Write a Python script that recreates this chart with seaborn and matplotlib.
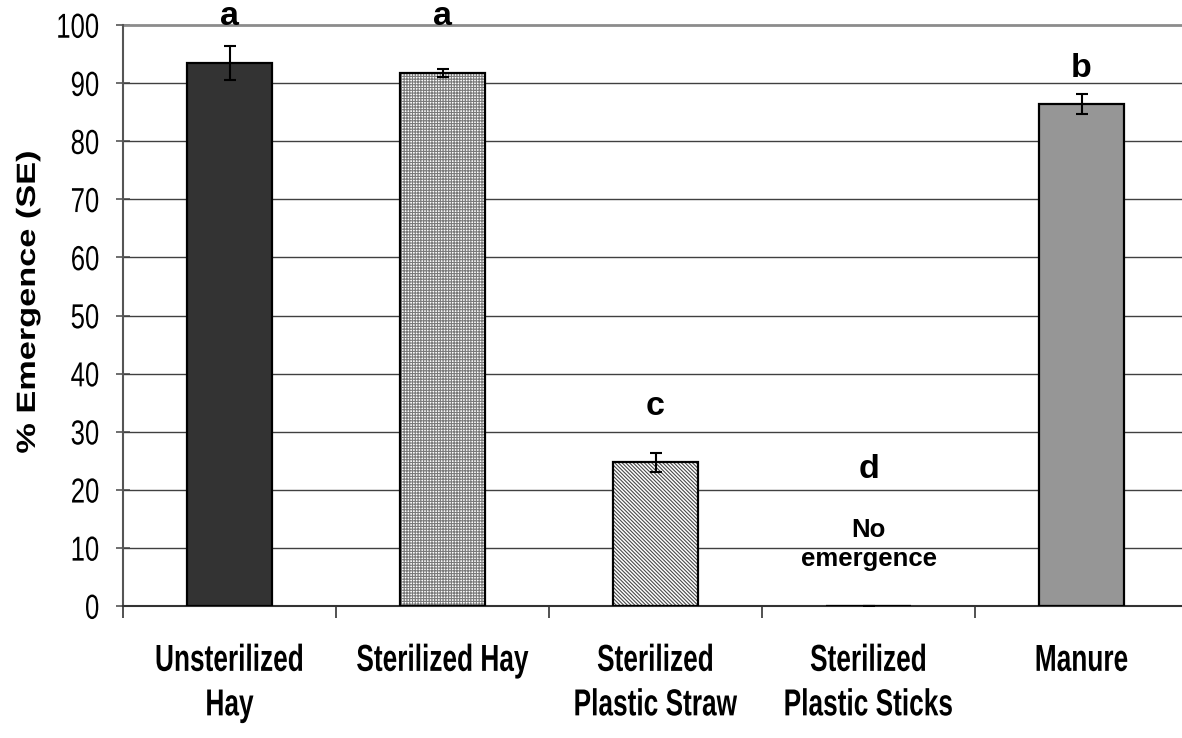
import matplotlib
matplotlib.use("Agg")
import matplotlib.pyplot as plt
from matplotlib.patches import Rectangle
from matplotlib.transforms import Affine2D
from matplotlib import patheffects
import seaborn as sns
import numpy as np

# Emergence by substrate
categories = ["Unsterilized\nHay", "Sterilized Hay", "Sterilized\nPlastic Straw",
              "Sterilized\nPlastic Sticks", "Manure"]
emergence = [93.4, 91.7, 24.7, 0.0, 86.4]
se = [2.9, 0.7, 1.7, 0.0, 1.7]
letters = ["a", "a", "c", "d", "b"]
letter_y = [100.0, 100.0, 32.9, 22.0, 91.0]
yticks = list(range(0, 101, 10))

fills = ["#333333", "#ffffff", "#ffffff", "#ffffff", "#969696"]
hatches = [None, "++++++", "\\\\\\\\\\\\\\\\\\", None, None]
hatch_colors = ["#707070", "#7a7a7a", "#4a4a4a", "#707070", "#707070"]


class Stretch(patheffects.AbstractPathEffect):
    """Scale glyph outlines in their own text frame about a fixed point.

    The glyph frame uses 100 units per em; (ax, ay) is the fixed point,
    with ax taken from the line's extents ("left", "center", "right").
    """

    def __init__(self, sx=1.0, sy=1.0, ax="center", ay=0.0):
        super().__init__()
        self.sx, self.sy, self.ax, self.ay = sx, sy, ax, ay

    def draw_path(self, renderer, gc, tpath, affine, rgbFace=None):
        ext = tpath.get_extents()
        cx = {"left": ext.x0, "right": ext.x1}.get(self.ax, 0.5 * (ext.x0 + ext.x1))
        t = (Affine2D().translate(-cx, -self.ay).scale(self.sx, self.sy)
             .translate(cx, self.ay))
        renderer.draw_path(gc, tpath, t + affine, rgbFace)


sns.set_theme(style="white")
plt.rcParams["font.family"] = ["Liberation Sans", "DejaVu Sans"]
plt.rcParams["hatch.linewidth"] = 0.8
for key in ["text.color", "axes.labelcolor", "xtick.color", "ytick.color"]:
    plt.rcParams[key] = "black"

fig = plt.figure(figsize=(11.82, 7.38), dpi=100)
ax = fig.add_axes([123 / 1182, 1 - 606 / 738, (1188 - 123) / 1182, (606 - 25) / 738])

sns.barplot(x=categories, y=emergence, hue=categories, palette=fills,
            width=0.4, linewidth=0, legend=False, ax=ax, zorder=2)

for patch, h, hc in zip(ax.patches, hatches, hatch_colors):
    patch.set_edgecolor(hc)
    if h:
        patch.set_hatch(h)
    # black outline on top of the hatched fill
    ax.add_patch(Rectangle(patch.get_xy(), patch.get_width(), patch.get_height(),
                           facecolor="none", edgecolor="black", linewidth=1.6,
                           zorder=3))

xpos = np.arange(len(categories))
ax.errorbar(xpos, emergence, yerr=se, fmt="none", ecolor="black",
            elinewidth=1.5, capsize=4.5, capthick=1.5, zorder=4)

for x, lab, y in zip(xpos, letters, letter_y):
    ax.text(x, y, lab, ha="center", va="baseline", fontsize=24.5,
            fontweight="bold", clip_on=False)
ax.text(3, 10.6, "No\nemergence", ha="center", va="center", fontsize=18.5,
        fontweight="bold", linespacing=1.25)

ax.set_xlim(-0.5, len(categories) - 0.5)
ax.set_ylim(0, 100)
ax.set_yticks(yticks)
ax.set_yticklabels([str(t) for t in yticks], fontsize=18.5)
ax.tick_params(axis="y", which="major", direction="inout", length=10,
               width=1.2, color="#555555", pad=12, left=True)

ax.set_xticks(xpos)
ax.set_xticklabels(categories, fontsize=18.9, fontweight="bold", linespacing=2.08)
ax.tick_params(axis="x", which="major", length=0, pad=33)
ax.set_xticks(np.arange(-0.5, len(categories), 1.0), minor=True)
ax.tick_params(axis="x", which="minor", direction="out", length=8.5,
               width=1.2, color="#333333", bottom=True)

# tall, condensed-looking tick labels
for lab in ax.get_yticklabels():
    lab.set_path_effects([Stretch(sy=1.35, ay=36)])
for lab in ax.get_xticklabels():
    lab.set_path_effects([Stretch(sy=1.43, ay=0)])

# horizontal gridlines
for t in yticks[1:-1]:
    ax.axhline(t, color="#404040", linewidth=1.0, zorder=1)
ax.axhline(100, color="#8c8c8c", linewidth=2.0, zorder=1, clip_on=False)

ax.set_ylabel("% Emergence (SE)", fontsize=19, fontweight="bold")
ax.yaxis.set_label_coords(-0.078, 0.523)
ax.yaxis.label.set_path_effects([Stretch(sx=1.3, ax="center")])
ax.set_xlabel("")

for side in ["top", "right"]:
    ax.spines[side].set_visible(False)
ax.spines["left"].set_color("#555555")
ax.spines["left"].set_linewidth(1.5)
ax.spines["bottom"].set_color("#333333")
ax.spines["bottom"].set_linewidth(1.5)

fig.savefig("out.png", dpi=100, facecolor="white")
